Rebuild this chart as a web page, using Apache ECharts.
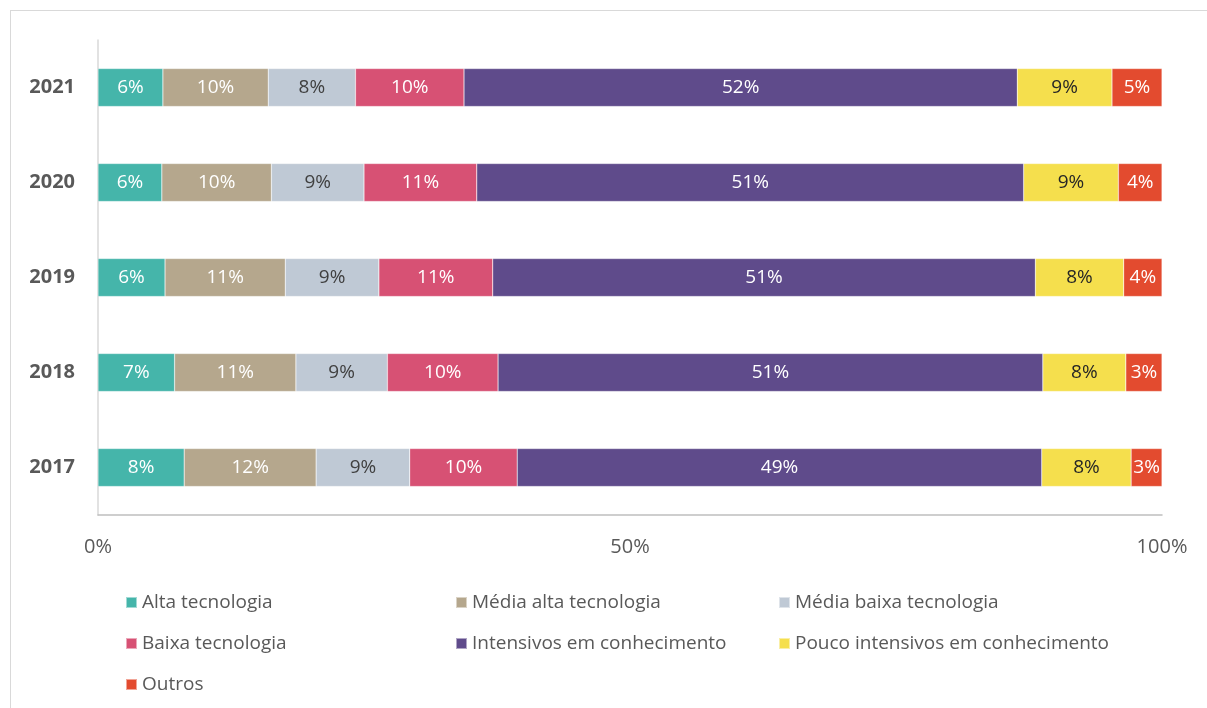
<!DOCTYPE html>
<html>
<head>
<meta charset="utf-8">
<script src="https://cdn.jsdelivr.net/npm/echarts@6/dist/echarts.min.js"></script>
<style>
  html, body { margin: 0; padding: 0; background: #fff; }
  #frame { position: absolute; left: 10px; top: 10px; width: 1210px; height: 710px; border: 1px solid #d9d9d9; box-sizing: border-box; }
  #chart { position: absolute; left: 0; top: 0; width: 1207px; height: 708px; }
</style>
</head>
<body>
<div id="frame"></div>
<div id="chart"></div>
<script>
  // anos (de baixo para cima)
  var years = ['2017', '2018', '2019', '2020', '2021'];
  var seriesNames = ['Alta tecnologia', 'Média alta tecnologia', 'Média baixa tecnologia', 'Baixa tecnologia',
    'Intensivos em conhecimento', 'Pouco intensivos em conhecimento', 'Outros'];
  var colors = ['#45b5aa', '#b5a78d', '#bfc9d5', '#d75174', '#5f4b8b', '#f5df4d', '#e34b2f'];
  var labelColors = ['#fff', '#fff', '#404040', '#fff', '#fff', '#262626', '#fff'];

  // participação (%) por ano, mesma ordem de years
  var alta = [8.1, 7.2, 6.3, 6.0, 6.1];
  var mediaAlta = [12.4, 11.4, 11.3, 10.3, 9.9];
  var mediaBaixa = [8.8, 8.6, 8.8, 8.7, 8.2];
  var baixa = [10.1, 10.4, 10.7, 10.6, 10.2];
  var intensivos = [49.3, 51.2, 51.0, 51.4, 52.0];
  var poucoIntensivos = [8.4, 7.8, 8.3, 8.9, 8.9];
  var outros = [2.9, 3.4, 3.6, 4.1, 4.7];

  var values = [alta, mediaAlta, mediaBaixa, baixa, intensivos, poucoIntensivos, outros];
  var font = 'Open Sans';

  var series = seriesNames.map(function (name, i) {
    return {
      name: name,
      type: 'bar',
      stack: 'total',
      barWidth: 38,
      itemStyle: { color: colors[i], borderColor: 'rgba(255,255,255,0.5)', borderWidth: 0.5 },
      label: {
        show: true,
        position: 'inside',
        color: labelColors[i],
        fontSize: 19,
        fontFamily: font,
        formatter: function (p) { return Math.round(p.value) + '%'; }
      },
      data: values[i]
    };
  });

  var legendText = { fontSize: 19, color: '#595959', fontFamily: font };
  function legendCol(left, names) {
    return {
      orient: 'vertical',
      left: left,
      top: 588,
      itemWidth: 11,
      itemHeight: 11,
      itemGap: 22,
      icon: 'rect',
      textStyle: legendText,
      selectedMode: false,
      data: names
    };
  }

  var myChart = echarts.init(document.getElementById('chart'));
  myChart.setOption({
    animation: false,
    color: colors,
    grid: { left: 98, right: 45, top: 40, bottom: 193 },
    legend: [
      legendCol(120, [seriesNames[0], seriesNames[3], seriesNames[6]]),
      legendCol(450, [seriesNames[1], seriesNames[4]]),
      legendCol(773, [seriesNames[2], seriesNames[5]])
    ],
    xAxis: {
      type: 'value',
      min: 0,
      max: 100,
      interval: 50,
      axisLine: { show: true, lineStyle: { color: '#bfbfbf', width: 1.5 } },
      axisTick: { show: false },
      splitLine: { show: false },
      axisLabel: {
        margin: 22,
        fontSize: 20,
        color: '#595959',
        fontFamily: font,
        formatter: '{value}%'
      }
    },
    yAxis: {
      type: 'category',
      data: years,
      axisLine: { show: true, lineStyle: { color: '#d9d9d9', width: 1.5 } },
      axisTick: { show: false },
      axisLabel: {
        margin: 23,
        fontSize: 20,
        fontWeight: 'bold',
        color: '#595959',
        fontFamily: font
      }
    },
    series: series
  });
</script>
</body>
</html>
